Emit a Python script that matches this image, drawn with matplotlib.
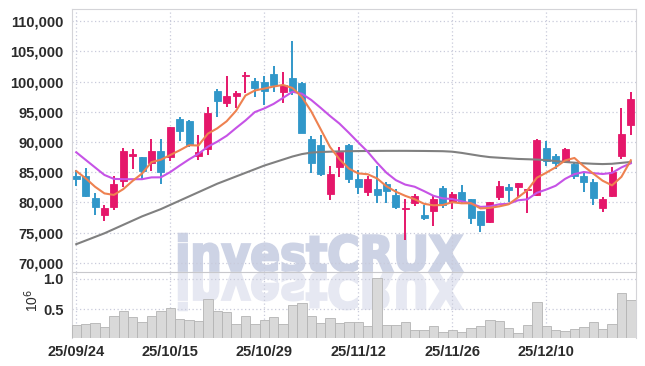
import numpy as np
import pandas as pd
import matplotlib
matplotlib.use("Agg")
import matplotlib.pyplot as plt
from matplotlib.font_manager import FontProperties, findfont
from matplotlib.textpath import TextPath
from matplotlib.patches import PathPatch
from matplotlib.transforms import Affine2D
from matplotlib.ticker import FuncFormatter

# trading days (yy/mm/dd)
dates = ["25/09/24", "25/09/25", "25/09/26", "25/09/29", "25/09/30", "25/10/01", "25/10/02",
         "25/10/10", "25/10/13", "25/10/14", "25/10/15", "25/10/16", "25/10/17", "25/10/20",
         "25/10/21", "25/10/22", "25/10/23", "25/10/24", "25/10/27", "25/10/28", "25/10/29",
         "25/10/30", "25/10/31", "25/11/03", "25/11/04", "25/11/05", "25/11/06", "25/11/07",
         "25/11/10", "25/11/11", "25/11/12", "25/11/13", "25/11/14", "25/11/17", "25/11/18",
         "25/11/19", "25/11/20", "25/11/21", "25/11/24", "25/11/25", "25/11/26", "25/11/27",
         "25/11/28", "25/12/01", "25/12/02", "25/12/03", "25/12/04", "25/12/05", "25/12/08",
         "25/12/09", "25/12/10", "25/12/11", "25/12/12", "25/12/15", "25/12/16", "25/12/17",
         "25/12/18", "25/12/19", "25/12/22", "25/12/23"]

opens = [84400, 84400, 80700, 78000, 79300, 83600, 87700, 87450, 86500, 88550,
         87450, 93750, 93500, 87700, 88900, 98450, 96500, 97600, 100850, 100150,
         99900, 101300, 98350, 100550, 99750, 90450, 89500, 81450, 85900, 89450,
         83950, 81750, 82200, 83000, 81200, 78950, 79850, 77850, 78600, 82450,
         80150, 81750, 80500, 78600, 76750, 80950, 82500, 82500, 82050, 81250,
         89000, 87700, 86800, 86400, 84400, 83400, 79150, 81150, 87700, 92750]
highs = [85400, 85650, 81600, 79600, 84400, 89000, 88800, 87500, 90550, 90550,
         92450, 94100, 93650, 91200, 95750, 98850, 101000, 98500, 101550, 100550,
         100850, 102500, 101500, 106650, 99850, 91000, 91150, 86000, 89100, 89750,
         85300, 84350, 86000, 83350, 82300, 80600, 81450, 79500, 81050, 82700,
         81700, 82850, 80650, 78650, 80100, 83550, 83050, 83300, 82300, 90450,
         90100, 88050, 89000, 86600, 84850, 83850, 80900, 85850, 95600, 98350]
lows = [82700, 80900, 78000, 76900, 78750, 82500, 85500, 83900, 85250, 83050,
        86900, 90100, 89100, 87050, 87850, 94100, 95850, 95600, 98100, 97500,
        96050, 98350, 96500, 97800, 91550, 84950, 84400, 80350, 84200, 83250,
        81350, 81050, 79950, 79950, 79000, 73800, 79400, 77050, 76100, 79150,
        78850, 79800, 76500, 75100, 76650, 80400, 80050, 80700, 78250, 81000,
        85950, 85500, 86500, 83850, 81650, 79600, 78400, 80900, 87150, 91200]
closes = [83800, 81100, 79200, 79100, 83050, 88550, 87950, 85250, 88550, 85050,
          92450, 91800, 89500, 88300, 94850, 96850, 97650, 98150, 100950, 99000,
          98450, 99350, 99450, 98450, 91550, 86550, 84650, 84650, 88400, 83800,
          82550, 83950, 81200, 81900, 79300, 79150, 81150, 77400, 80650, 79550,
          81450, 80250, 77500, 76300, 80050, 82650, 82000, 83200, 82250, 90350,
          86800, 86500, 88850, 84300, 83450, 80800, 80600, 85000, 91350, 97150]
volumes = [236000, 258000, 275000, 209000, 385000, 467000, 374000, 291000, 385000, 467000,
           516000, 335000, 319000, 308000, 665000, 473000, 451000, 258000, 385000, 258000,
           324000, 368000, 258000, 566000, 604000, 385000, 275000, 352000, 269000, 291000,
           291000, 220000, 1011000, 236000, 236000, 291000, 154000, 154000, 220000, 126000,
           154000, 126000, 187000, 220000, 319000, 308000, 187000, 110000, 236000, 615000,
           220000, 159000, 143000, 170000, 203000, 286000, 170000, 253000, 764000, 648000]

# moving-average values before enough history is in the window
ma5_head = [85200, 84000, 82600, 81500]
ma10_head = [88300, 87050, 85800, 84550, 83900, 83850, 83850, 83850, 84150]
# long moving average
ma_long = [73100, 73700, 74300, 74900, 75600, 76300, 77000, 77700, 78300, 78900,
           79600, 80300, 81000, 81700, 82400, 83100, 83700, 84300, 84900, 85500,
           86100, 86600, 87100, 87600, 88000, 88250, 88350, 88400, 88450, 88480,
           88500, 88520, 88530, 88540, 88540, 88540, 88530, 88520, 88500, 88480,
           88400, 88200, 87950, 87700, 87500, 87400, 87300, 87200, 87150, 87100,
           87000, 86850, 86700, 86580, 86480, 86400, 86350, 86400, 86550, 86700]

df = pd.DataFrame({"open": opens, "high": highs, "low": lows, "close": closes, "vol": volumes})
ma5 = df["close"].rolling(5).mean().to_numpy()
ma5[:len(ma5_head)] = ma5_head
ma10 = df["close"].rolling(10).mean().to_numpy()
ma10[:len(ma10_head)] = ma10_head

def pick_font(names):
    for n in names:
        try:
            findfont(FontProperties(family=n), fallback_to_default=False)
            return n
        except Exception:
            pass
    return "DejaVu Sans"

tick_font = pick_font(["Liberation Sans Narrow", "Liberation Sans", "DejaVu Sans"])
plt.rcParams["font.family"] = [tick_font, "DejaVu Sans"]

UP = "#e5176a"
DOWN = "#3197c9"
GRID = "#c9cbdb"
SPINE = "#d4d4d8"
TXT = "#2b2b2b"

W, H = 645, 366
fig = plt.figure(figsize=(W / 100, H / 100), dpi=100)
ax = fig.add_axes([72 / W, 1 - 272 / H, 564 / W, 263 / H])
axv = fig.add_axes([72 / W, 1 - 338 / H, 564 / W, 66 / H], sharex=ax)
axv.set_facecolor("none")

x = np.arange(len(df))
up = df["close"] >= df["open"]
colors = np.where(up, UP, DOWN)

# candles
ax.vlines(x, df["low"], df["high"], colors=colors, linewidth=1.4, zorder=3)
body_lo = np.minimum(df["open"], df["close"])
body_h = np.maximum((df["close"] - df["open"]).abs(), 180)
ax.bar(x, body_h, bottom=body_lo, width=0.74, color=colors, edgecolor=colors,
       linewidth=0.6, zorder=3)

# moving averages
ax.plot(x, ma_long, color="#808080", linewidth=1.5, zorder=4)
ax.plot(x, ma10, color="#c653e6", linewidth=1.5, zorder=4)
ax.plot(x, ma5, color="#ee8150", linewidth=1.5, zorder=4)

ax.set_xlim(-0.45, len(df) - 0.45)
ax.set_ylim(68500, 112000)
yt = [70000, 75000, 80000, 85000, 90000, 95000, 100000, 105000, 110000]
ax.set_yticks(yt)
ax.yaxis.set_major_formatter(FuncFormatter(lambda v, p: f"{int(v):,}"))
xt = list(range(0, len(df), 10))
ax.set_xticks(xt)
ax.tick_params(axis="x", labelbottom=False, length=0)
ax.tick_params(axis="y", length=0, pad=6, labelsize=10.5, labelcolor=TXT)
for lab in ax.get_yticklabels():
    lab.set_fontweight("bold")
ax.grid(True, color=GRID, linestyle=(0, (1, 2)), linewidth=0.9)
for s in ["top", "left", "right"]:
    ax.spines[s].set_color(SPINE)
ax.spines["bottom"].set_color("#c8c8cc")

# volume
axv.bar(x, df["vol"] / 1e6, width=1.0, color="#d9d9d9", edgecolor="#b4b4b4",
        linewidth=0.6, zorder=3)
axv.set_ylim(0.02, 1.115)
axv.set_yticks([0.5, 1.0])
axv.yaxis.set_major_formatter(FuncFormatter(lambda v, p: f"{v:.1f}"))
axv.set_xticks(xt)
axv.set_xticklabels([dates[i] for i in xt])
axv.tick_params(axis="x", length=0, pad=5, labelsize=10.5, labelcolor=TXT)
axv.tick_params(axis="y", length=0, pad=6, labelsize=10.5, labelcolor=TXT)
for lab in axv.get_yticklabels() + axv.get_xticklabels():
    lab.set_fontweight("bold")
axv.grid(True, color=GRID, linestyle=(0, (1, 2)), linewidth=0.9)
axv.spines["top"].set_visible(False)
axv.spines["bottom"].set_visible(False)
axv.spines["left"].set_color(SPINE)
axv.spines["right"].set_color(SPINE)
fig.text(32 / W, 1 - 300 / H, "10$^6$", rotation=90, ha="center", va="center",
         fontsize=10, color=TXT)

# watermark with reflection
wm_prop = FontProperties(family="DejaVu Sans", weight="bold")
tp = TextPath((0, 0), "investCRUX", size=60, prop=wm_prop)
ext = tp.get_extents()
x0, x1, ytop, ybase = 179, 462, 234, 271
sx = (x1 - x0) / ext.width
sy = (ybase - ytop) / ext.y1
main_tr = (Affine2D().translate(-ext.x0, 0).scale(sx, sy).translate(x0, H - ybase)
           .scale(1 / fig.dpi) + fig.dpi_scale_trans)
refl_tr = (Affine2D().translate(-ext.x0, 0).scale(sx, -sy).translate(x0, H - ybase - 2)
           .scale(1 / fig.dpi) + fig.dpi_scale_trans)
ax.add_patch(PathPatch(tp, transform=main_tr, facecolor="#cdd3e5", edgecolor="#cdd3e5",
                       linewidth=1.8, clip_on=False, zorder=0.5))
ax.add_patch(PathPatch(tp, transform=refl_tr, facecolor="#e6e8f2", edgecolor="#e6e8f2",
                       linewidth=1.8, clip_on=False, zorder=0.5))

fig.savefig("out.png", dpi=100)
